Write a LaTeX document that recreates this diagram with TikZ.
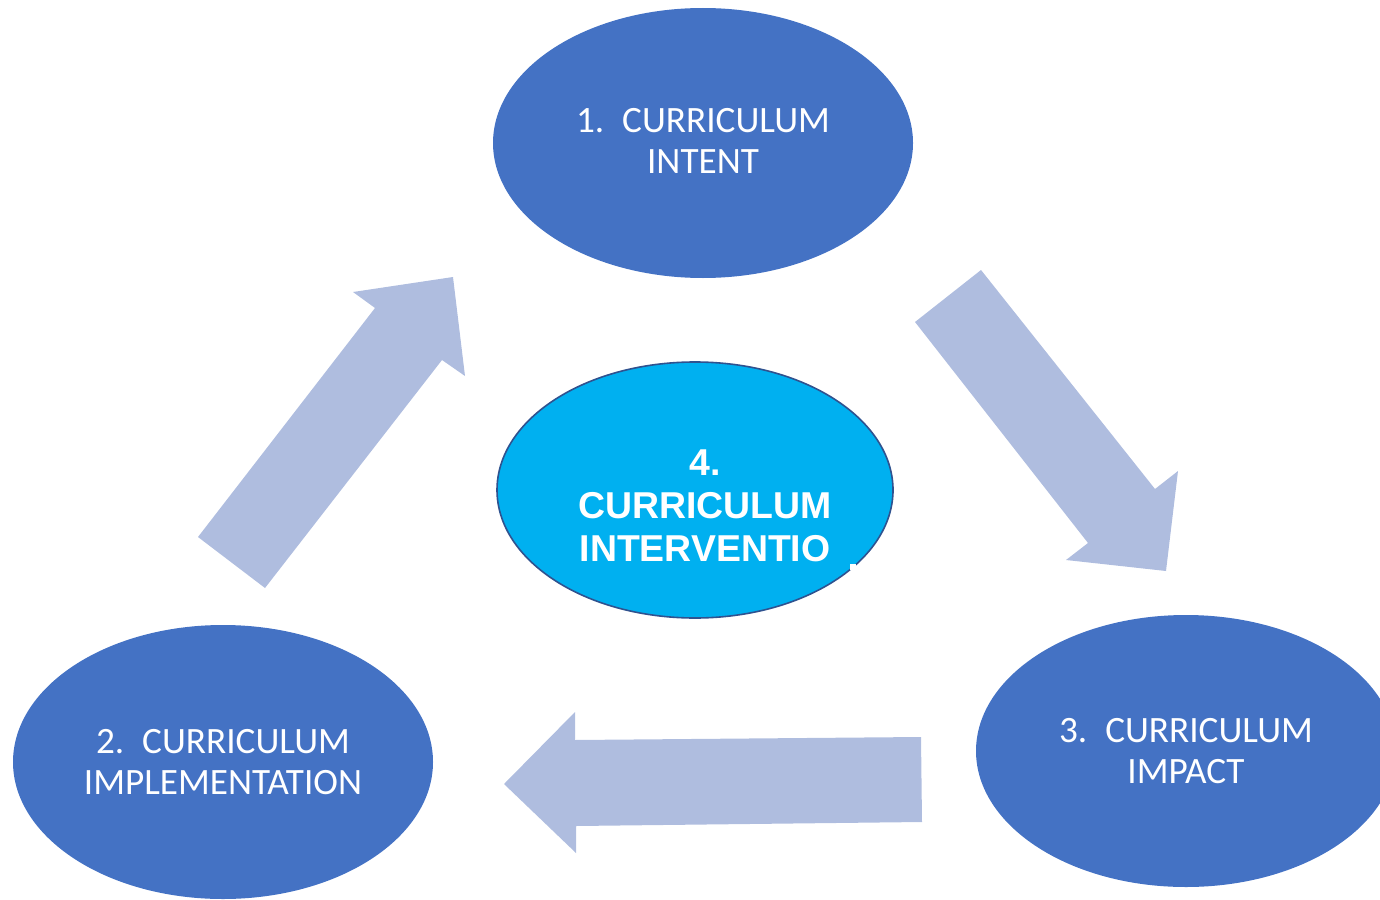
\documentclass[tikz,border=0pt]{standalone}
\usepackage{fontspec}
\setmainfont{Carlito}
\newfontfamily\boldsans{Liberation Sans}
\definecolor{ellblue}{HTML}{4472C4}
\definecolor{arrowblue}{HTML}{AFBDDF}
\definecolor{cyanfill}{HTML}{00B0F0}
\definecolor{darkedge}{HTML}{2F528F}
\usetikzlibrary{shapes.geometric}
\tikzset{
  stagetext/.style={align=center, text=white, font=\fontsize{18.6}{20.5}\selectfont},
  centertext/.style={align=center, text=white, font=\boldsans\bfseries\fontsize{18.7}{21.5}\selectfont},
  blockarrow/.style={fill=arrowblue, draw=none},
}
\begin{document}
\begin{tikzpicture}[x=0.5pt,y=-0.5pt]
\useasboundingbox (0,0) rectangle (1380,899);
\clip (0,0) rectangle (1380,899);
% ellipses
\fill[ellblue] (703,143) ellipse [x radius=210, y radius=135];
\fill[ellblue] (223,762) ellipse [x radius=210, y radius=137];
\fill[ellblue] (1186,751) ellipse [x radius=210, y radius=136];
\filldraw[fill=cyanfill, draw=darkedge, line width=0.8pt] (695,490) ellipse [x radius=198, y radius=128];
% texts
\node[stagetext] (n1) at (703,141) {1.\hspace{9pt}CURRICULUM\\INTENT};
\node[stagetext] (n2) at (223,762) {2.\hspace{9pt}CURRICULUM\\IMPLEMENTATION};
\node[stagetext] (n3) at (1186,751) {3.\hspace{9pt}CURRICULUM\\IMPACT};
\node[centertext] (n4) at (705,506) {4.\\CURRICULUM\\INTERVENTIO};
\fill[white] (850,564) rectangle (856,570);
% arrows
\fill[blockarrow] (198,537) -- (375,308) -- (353,292) -- (453,277) -- (465,376) -- (442,360) -- (265,588) -- cycle;
\fill[blockarrow] (915,322) -- (981,270) -- (1155,489) -- (1178,471) -- (1166,571) -- (1066,560) -- (1088,543) -- cycle;
\fill[blockarrow] (921,737) -- (575,740) -- (575,712) -- (504,784) -- (576,853) -- (576,826) -- (922,822) -- cycle;
\end{tikzpicture}
\end{document}
